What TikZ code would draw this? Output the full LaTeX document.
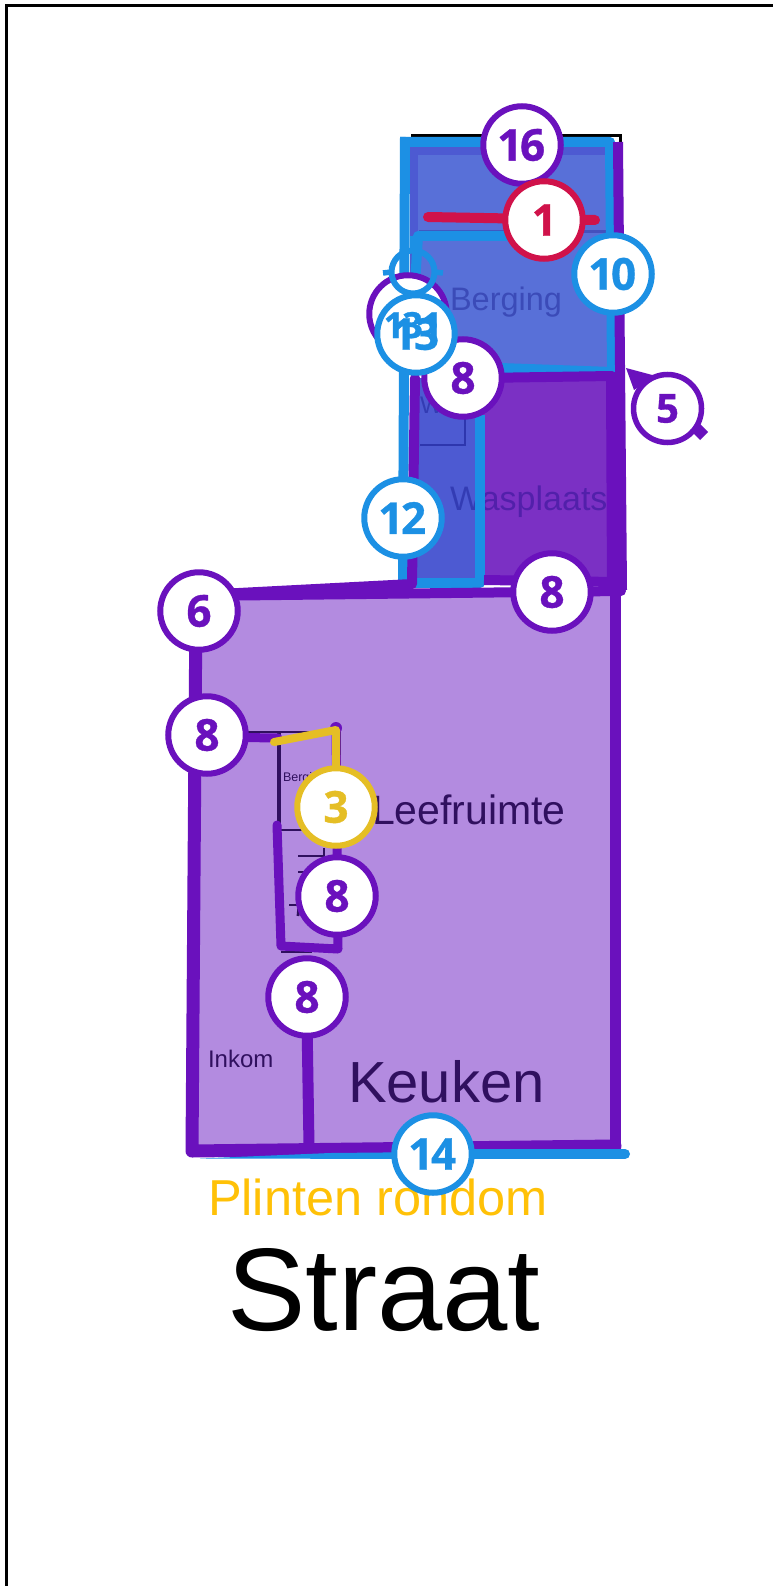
\documentclass[tikz,border=0pt]{standalone}
\usepackage{fontspec}
\setmainfont{Liberation Sans}
\newfontfamily\digitfont{Open Sans}[Numbers=Proportional,BoldFeatures={FakeBold=0.8}]
\newcommand{\pxfont}[1]{\fontsize{#1}{#1}\selectfont}
\definecolor{wallpurple}{HTML}{6A11BD}
\definecolor{wallblue}{HTML}{1C90E4}
\definecolor{wallred}{HTML}{D0124A}
\definecolor{wallyellow}{HTML}{E5BE25}
\definecolor{roomlilac}{HTML}{B38BE0}
\definecolor{roomblue}{HTML}{5870D8}
\definecolor{roomindigo}{HTML}{4D5AD2}
\definecolor{roomviolet}{HTML}{7B30C4}
\definecolor{plintyellow}{HTML}{FFC107}
\definecolor{inkdark}{HTML}{30105F}
\definecolor{inkblue}{HTML}{000078}
\begin{document}
\begin{tikzpicture}[x=1pt,
y=-1pt,
every node/.style={
inner sep=0pt,
outer sep=0pt,
anchor=base west,
},
num/.style={
circle,
anchor=center,
draw=#1,
text=#1,
fill=white,
line width=6pt,
minimum size=77.5pt,
font=\digitfont\bfseries\pxfont{44},
},
wall/.style={
draw=#1,
line width=10pt,
line cap=round,
line join=round,
},
thinwall/.style={
draw=inkdark,
line width=2.8pt,
},
roomtext/.style={
text=inkblue,
opacity=0.33,
text opacity=0.33,
},
]
\useasboundingbox (0,0) rectangle (773,1586);
\fill[white] (0,0) rectangle (773,1586);

%frame
\draw[black,line width=3pt] (6.5,1586)--(6.5,5.5)--(773,5.5);

%room fills
\fill[roomblue] (410,147) rectangle (610,372);
\draw[roomindigo,line width=8pt] (414,372)--(414,151)--(608,151);
\draw[roomindigo!90!black,line width=3pt] (419,232)--(606,232);
\fill[roomindigo] (415,378) rectangle (480,582);
\fill[roomviolet] (480,378) rectangle (610,582);
\fill[roomlilac] (196,594) rectangle (615,1148);

%room names
\node(labelBerging)[roomtext,font=\pxfont{32.5}]at(450,310){Berging};
\node(labelWc)[roomtext,font=\pxfont{24}]at(420,413){WC};
\node(labelWasplaats)[roomtext,font=\pxfont{34}]at(450,510){Wasplaats};
\node(labelBerg)[text=inkdark,font=\pxfont{12.5}]at(283,781){Berging};
\node(labelLeef)[text=inkdark,font=\pxfont{41}]at(372,824){Leefruimte};
\node(labelInkom)[text=inkdark,font=\pxfont{24}]at(208,1067){Inkom};
\node(labelKeuken)[text=inkdark,font=\pxfont{58}]at(348,1102){Keuken};
\node(labelPlinten)[text=plintyellow,font=\pxfont{50.5}]at(208,1215){Plinten rondom};
\node(labelStraat)[text=black,font=\pxfont{117.5}]at(227,1330){Straat};

%thin lines of the plan
\draw[inkblue!40!roomindigo,line width=2.8pt] (420,445)--(465,445)--(465,418);
\draw[thinwall] (248,732)--(340,732)--(340,830)--(279,830);
\draw[thinwall,line width=4pt] (279,732)--(279,830);
\draw[thinwall] (298,856)--(324,856)--(324,848);
\draw[thinwall] (298,872)--(308,872);
\draw[thinwall] (289,905)--(298,905);
\draw[thinwall] (299,905)--(298,916);
\draw[thinwall] (281,952)--(312,952);

%black edge on top
\draw[black,line width=3pt] (411,135.5)--(620,135.5)--(620,142);

%blue walls
\draw[wall=wallblue,line cap=butt] (405,137)--(403,580);
\draw[wall=wallblue,line cap=butt] (400,142)--(610,142)--(612,372)--(500,368);
\draw[wall=wallblue] (414,300)--(418,236)--(530,236);
\draw[wall=wallblue,line cap=butt] (480,415)--(480,583)--(415,583);

%purple walls
\draw[wall=wallpurple,line cap=butt] (618,142)--(622,590);
\draw[wall=wallpurple,line width=12pt,line cap=butt] (612,378)--(613,592);
\draw[wall=wallpurple] (612,376)--(480,378);
\draw[wall=wallpurple] (415,378)--(412,584)--(200,595);
\draw[wall=wallpurple] (196,596)--(621,591);
\draw[wall=wallpurple,line cap=butt] (484,580)--(615,582);
\draw[wall=wallpurple,line width=13pt] (196,600)--(192,1151)--(615,1146);
\draw[wall=wallpurple,line width=11pt] (615,592)--(615,1146);
\draw[wall=wallpurple,line width=11pt] (307,1020)--(309,1146);
\draw[wall=wallpurple,line width=9pt] (207,737)--(278,738);
\draw[wall=wallpurple,line width=9pt] (277,825)--(281,946)--(338,949)--(336,728);
\fill[wallpurple] (336,728) circle (6);

%red, yellow and blue lines on top
\draw[wall=wallred] (428,217)--(595,220);
\draw[wall=wallyellow,line width=8pt] (274,742)--(336,730)--(336,770);
\fill[wallblue] (200,1158.5)--(330,1153)--(433,1152)--(433,1159)--cycle;
\draw[wall=wallblue] (433,1154)--(625,1154);

%number rings
\node(num16)[num=wallpurple]at(522,145){16};
\node(num1)[num=wallred]at(544,220){1};
\node(num10)[num=wallblue]at(613,274){10};
\node(ringBack)[num=wallpurple]at(408,314){};
\node(target)[circle,anchor=center,draw=wallblue,line width=6pt,minimum size=43pt]at(413,272){};
\draw[wallblue,line width=5.5pt] (383,273)--(target.west) (target.east)--(443,273);
\draw[wallblue,line width=5.5pt] (target.south)--(413,303) (target.north)--(413,236);
\node(num8top)[num=wallpurple]at(463,378){8};
\node(num13)[num=wallblue]at(416,334){13};
\node(textThirteen)[text=wallblue,font=\digitfont\bfseries\pxfont{36}]at(385,338){13};
\node(textOne)[text=wallblue,font=\digitfont\bfseries\pxfont{36}]at(423,338){1};
\node(num5)[num=wallpurple,line width=5.5pt,minimum size=68pt,font=\digitfont\bfseries\pxfont{40}]at(667.5,408.5){5};
\fill[wallpurple] (626,368)--(656,376)--(634,390)--cycle;
\fill[wallpurple] (700,424)--(708,432)--(700,440)--(690,430)--cycle;
\node(num12)[num=wallblue]at(403,518){12};
\node(num8right)[num=wallpurple]at(552,592){8};
\node(num6)[num=wallpurple]at(199,611){6};
\node(num8left)[num=wallpurple]at(207,735){8};
\node(num3)[num=wallyellow]at(336,807){3};
\node(num8mid)[num=wallpurple]at(337,896){8};
\node(num8low)[num=wallpurple]at(307,997){8};
\node(num14)[num=wallblue]at(433,1154){14};
\end{tikzpicture}
\end{document}
